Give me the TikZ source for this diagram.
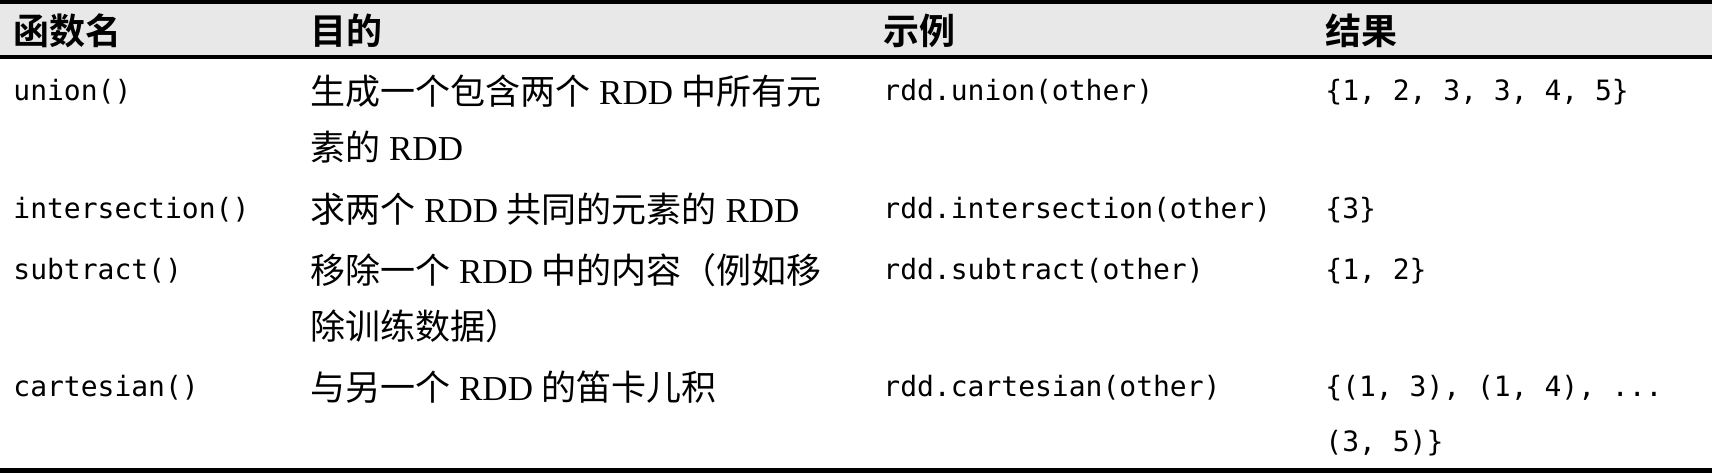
\documentclass[tikz,border=0pt]{standalone}
\usepackage{fontspec}
\setmainfont{Liberation Serif}
\newfontfamily\cjk{Noto Sans CJK SC}
\newfontfamily\cjkb{Noto Sans CJK SC Bold}
\newfontfamily\mono{DejaVu Sans Mono}
\begin{document}
\begin{tikzpicture}[x=0.5pt,y=-0.5pt,
  hd/.style={anchor=base west,inner sep=0,font=\fontsize{18}{21}\cjkb},
  tx/.style={anchor=base west,inner sep=0,font=\fontsize{17.5}{21}\selectfont},
  cd/.style={anchor=base west,inner sep=0,font=\fontsize{14}{17}\mono}]
\useasboundingbox (0,0) rectangle (1712,474);
\fill[gray!18] (0,3) rectangle (1712,57);
\draw[line width=2.5pt] (0,2) -- (1712,2);
\draw[line width=2pt] (0,57) -- (1712,57);
\draw[line width=2.5pt] (0,471) -- (1712,471);
\node[hd] (h1) at (13,45) {函数名};
\node[hd] (h2) at (310,45) {目的};
\node[hd] (h3) at (883,45) {示例};
\node[hd] (h4) at (1325,45) {结果};
% row 1
\node[cd] (a1) at (13,101) {union()};
\node[tx] (b1) at (310,105) {{\cjk 生成一个包含两个} RDD {\cjk 中所有元}};
\node[tx] (b1b) at (310,161) {{\cjk 素的} RDD};
\node[cd] (c1) at (883,101) {rdd.union(other)};
\node[cd] (d1) at (1325,101) {\{1, 2, 3, 3, 4, 5\}};
% row 2
\node[cd] (a2) at (13,219) {intersection()};
\node[tx] (b2) at (310,223) {{\cjk 求两个} RDD {\cjk 共同的元素的} RDD};
\node[cd] (c2) at (883,219) {rdd.intersection(other)};
\node[cd] (d2) at (1325,219) {\{3\}};
% row 3
\node[cd] (a3) at (13,280) {subtract()};
\node[tx] (b3) at (310,284) {{\cjk 移除一个} RDD {\cjk 中的内容（例如移}};
\node[tx] (b3b) at (310,340) {{\cjk 除训练数据）}};
\node[cd] (c3) at (883,280) {rdd.subtract(other)};
\node[cd] (d3) at (1325,280) {\{1, 2\}};
% row 4
\node[cd] (a4) at (13,397) {cartesian()};
\node[tx] (b4) at (310,401) {{\cjk 与另一个} RDD {\cjk 的笛卡儿积}};
\node[cd] (c4) at (883,397) {rdd.cartesian(other)};
\node[cd] (d4) at (1325,397) {\{(1, 3), (1, 4), ...};
\node[cd] (d4b) at (1325,452) {(3, 5)\}};
\end{tikzpicture}
\end{document}
